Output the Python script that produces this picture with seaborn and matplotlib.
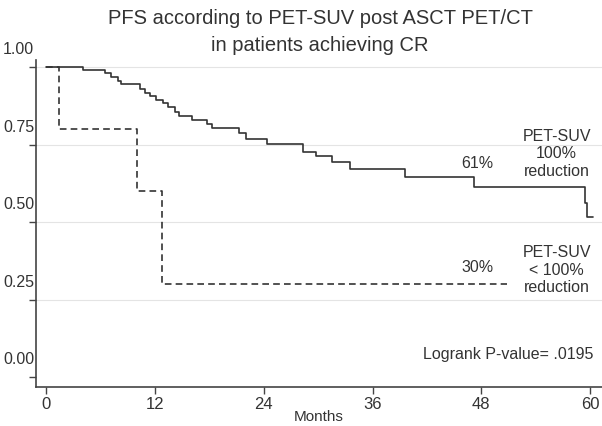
import numpy as np
import pandas as pd
import matplotlib
matplotlib.use("Agg")
import matplotlib.pyplot as plt
from matplotlib import font_manager
from matplotlib.transforms import ScaledTranslation
import seaborn as sns

# ---- data ----
months_full = [0, 4.1, 6.5, 7.2, 7.9, 8.3, 10.4, 10.9, 11.5, 12.1, 12.9, 13.5, 14.2,
               14.7, 16.1, 17.7, 18.3, 21.3, 22.1, 24.4, 28.3, 29.8, 31.5, 33.5,
               39.6, 47.2, 59.4, 59.6, 60.3]
surv_full = [1.0, 0.990, 0.980, 0.967, 0.956, 0.944, 0.931, 0.918, 0.906, 0.894,
             0.883, 0.870, 0.856, 0.842, 0.829, 0.816, 0.802, 0.788, 0.767, 0.751,
             0.727, 0.713, 0.695, 0.670, 0.646, 0.614, 0.561, 0.515, 0.515]
months_part = [0, 1.4, 10.0, 12.8, 50.8]
surv_part = [1.0, 0.8, 0.6, 0.3, 0.3]
group_names = ["PET-SUV 100% reduction", "PET-SUV < 100% reduction"]
x_ticks = [0, 12, 24, 36, 48, 60]
y_ticks = [0.00, 0.25, 0.50, 0.75, 1.00]
y_ticklabels = ["0.00", "0.25", "0.50", "0.75", "1.00"]
title_text = "PFS according to PET-SUV post ASCT PET/CT\nin patients achieving CR"
label_full = "PET-SUV\n100%\nreduction"
label_part = "PET-SUV\n< 100%\nreduction"
pct_full = "61%"
pct_part = "30%"
pvalue_text = "Logrank P-value= .0195"

df = pd.concat([
    pd.DataFrame({"month": months_full, "surv": surv_full, "group": group_names[0]}),
    pd.DataFrame({"month": months_part, "surv": surv_part, "group": group_names[1]}),
], ignore_index=True)

sns.set_theme(style="white")
plt.rcParams["font.family"] = ["Liberation Sans", "DejaVu Sans"]

fig = plt.figure(figsize=(6.02, 4.26), dpi=100)
ax = fig.add_axes([36 / 602, 39 / 426, 1 - 36 / 602, (387 - 60) / 426])

line_color = "#333333"
sns.lineplot(data=df, x="month", y="surv", hue="group", style="group",
             palette={group_names[0]: line_color, group_names[1]: line_color},
             dashes={group_names[0]: "", group_names[1]: (4, 2.5)},
             estimator=None, sort=False, drawstyle="steps-post",
             linewidth=1.2, legend=False, ax=ax)

ax.set_xlim(-1.1, 61.3)
ax.set_ylim(-0.032, 1.023)
ax.set_xticks(x_ticks)
ax.set_yticks(y_ticks)
ax.set_yticklabels(y_ticklabels)

ax.yaxis.grid(True, color="#e4e4e4", linewidth=0.8)
ax.set_axisbelow(True)
ax.get_ygridlines()[0].set_visible(False)

for side in ["top", "right"]:
    ax.spines[side].set_visible(False)
for side in ["left", "bottom"]:
    ax.spines[side].set_color("#444444")
    ax.spines[side].set_linewidth(1.2)

ax.tick_params(axis="both", which="major", direction="out", length=5, width=1.0,
               color="#444444", labelcolor="#333333")
ax.tick_params(axis="x", pad=2, labelsize=12)
ax.tick_params(axis="y", pad=0, labelsize=11.5)
ax.tick_params(left=True, bottom=True)

ax.set_xlabel("Months", fontsize=11, color="#333333", labelpad=-1)
ax.set_ylabel("")

# title
fig.text(320 / 602, 1 - 32 / 426, title_text, ha="center", va="center",
         fontsize=14.5, color="#333333", linespacing=1.5)

# annotations
txt_kw = dict(ha="center", va="center", fontsize=11.5, color="#333333",
              linespacing=1.2)
ax.text(56.3, 0.72, label_full, **txt_kw)
ax.text(47.6, 0.69, pct_full, **txt_kw)
ax.text(56.3, 0.345, label_part, **txt_kw)
ax.text(47.6, 0.355, pct_part, **txt_kw)
ax.text(60.4, 0.074, pvalue_text, ha="right", va="center", fontsize=11.5,
        color="#333333")

# y tick labels sit above their ticks in the reference
offset = ScaledTranslation(0.05, 0.19, fig.dpi_scale_trans)
for lbl in ax.yaxis.get_majorticklabels():
    lbl.set_transform(lbl.get_transform() + offset)

fig.savefig("out.png", dpi=100)
